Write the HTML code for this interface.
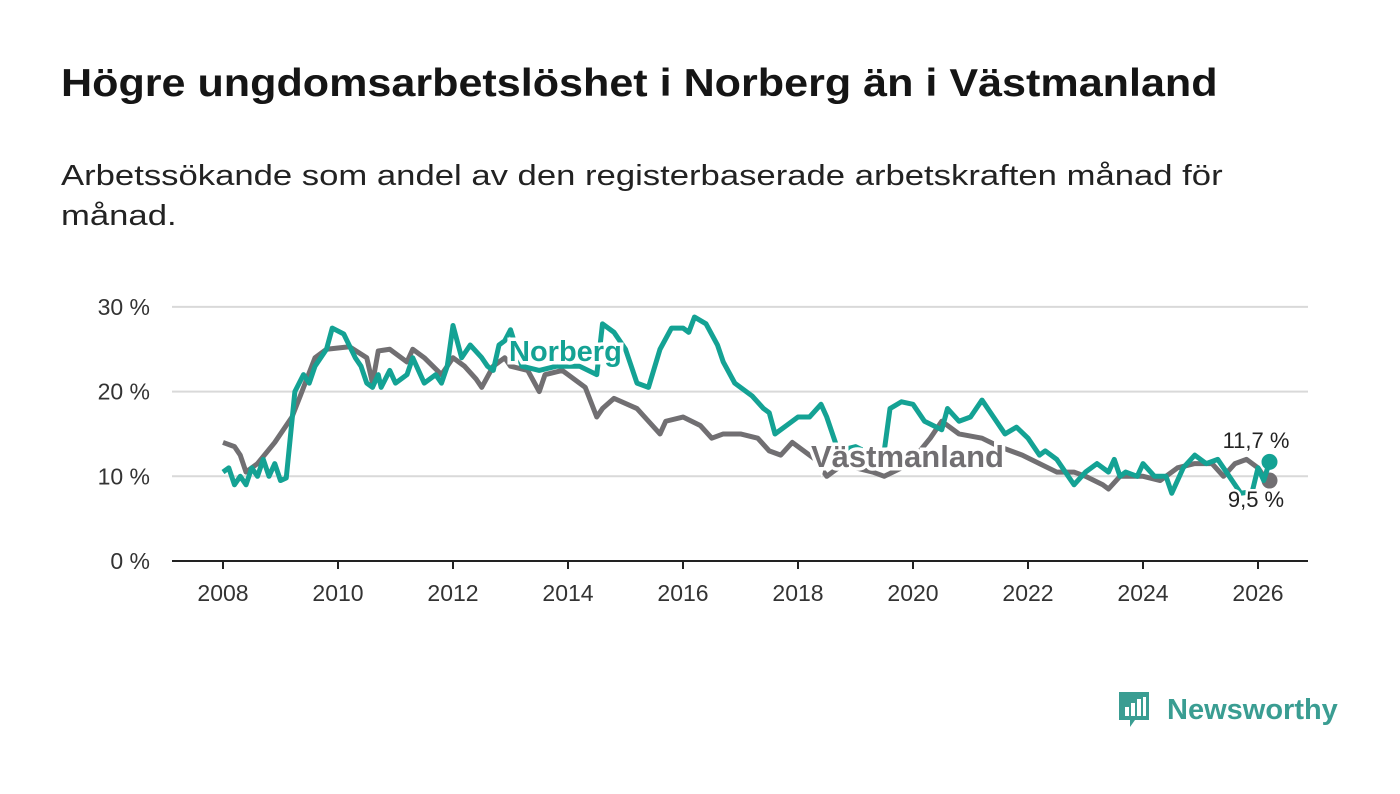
<!DOCTYPE html>
<html><head><meta charset="utf-8"><style>
body{margin:0;background:#fff;width:1400px;height:794px;overflow:hidden;font-family:"Liberation Sans","DejaVu Sans",sans-serif}
h1{position:absolute;left:61px;top:62px;margin:0;font-size:39px;font-weight:bold;color:#151515;white-space:nowrap;transform:scaleX(1.105);transform-origin:0 0}
.sub{position:absolute;left:61px;top:156px;margin:0;font-size:29px;line-height:40px;color:#222;white-space:nowrap;transform:scaleX(1.195);transform-origin:0 0}
svg{position:absolute;left:0;top:0}
</style></head><body>
<h1>Högre ungdomsarbetslöshet i Norberg än i Västmanland</h1>
<p class="sub">Arbetssökande som andel av den registerbaserade arbetskraften månad för<br>månad.</p>
<svg id="chart" width="1400" height="794"></svg>
<script>
const yTicks=[0,10,20,30];
const xTicks=[2008,2010,2012,2014,2016,2018,2020,2022,2024,2026];
const vastT=[2008,2008.2,2008.3,2008.4,2008.6,2008.9,2009.2,2009.35,2009.6,2009.8,2010.2,2010.5,2010.6,2010.7,2010.9,2011.2,2011.3,2011.5,2011.8,2012,2012.2,2012.4,2012.5,2012.7,2012.9,2013,2013.3,2013.5,2013.6,2013.9,2014,2014.3,2014.5,2014.6,2014.8,2015.2,2015.4,2015.6,2015.7,2016,2016.3,2016.5,2016.7,2017,2017.3,2017.5,2017.7,2017.9,2018.3,2018.5,2018.8,2019,2019.3,2019.5,2019.8,2020,2020.3,2020.5,2020.8,2021.2,2021.5,2021.9,2022.2,2022.5,2022.8,2023,2023.3,2023.4,2023.6,2024,2024.3,2024.6,2024.9,2025.2,2025.4,2025.6,2025.8,2026,2026.1,2026.2];
const vastV=[14,13.5,12.5,10.5,11.5,14,17,19.6,24,25,25.3,24,21,24.8,25,23.5,25,24,22,24,23,21.5,20.5,23,24,23,22.5,20,22,22.5,22,20.5,17,18,19.2,18,16.5,15,16.5,17,16,14.5,15,15,14.5,13,12.5,14,12,10,11.5,11,10.5,10,11,12,14.5,16.5,15,14.5,13.5,12.5,11.5,10.5,10.5,10,9,8.5,10,10,9.5,11,11.5,11.5,10,11.5,12,11,10,9.5];
const norT=[2008,2008.1,2008.2,2008.3,2008.4,2008.5,2008.6,2008.7,2008.8,2008.9,2009,2009.1,2009.25,2009.4,2009.5,2009.6,2009.8,2009.9,2010.1,2010.3,2010.4,2010.5,2010.6,2010.7,2010.75,2010.9,2011,2011.2,2011.3,2011.4,2011.5,2011.7,2011.8,2011.9,2012,2012.15,2012.3,2012.5,2012.6,2012.7,2012.8,2012.9,2013,2013.2,2013.5,2013.8,2014.2,2014.5,2014.6,2014.8,2015,2015.2,2015.4,2015.6,2015.8,2016,2016.1,2016.2,2016.4,2016.6,2016.7,2016.9,2017,2017.2,2017.4,2017.5,2017.6,2017.8,2018,2018.2,2018.4,2018.5,2018.7,2019,2019.3,2019.5,2019.6,2019.8,2020,2020.2,2020.5,2020.6,2020.8,2021,2021.2,2021.4,2021.6,2021.8,2022,2022.2,2022.3,2022.5,2022.7,2022.8,2023,2023.2,2023.4,2023.5,2023.6,2023.7,2023.9,2024,2024.2,2024.4,2024.5,2024.7,2024.9,2025.1,2025.3,2025.5,2025.7,2025.9,2026,2026.1,2026.2];
const norV=[10.5,11,9,10,9,11,10,12,10,11.5,9.5,9.8,20,22,21,23,25,27.5,26.8,24,23,21,20.5,22,20.5,22.5,21,22,24,22.5,21,22,21,23,27.8,24,25.5,24,23,22.5,25.5,26,27.3,23,22.5,23,23,22,28,27,25,21,20.5,25,27.5,27.5,27,28.8,28,25.5,23.5,21,20.5,19.5,18,17.5,15,16,17,17,18.5,17,13,13.5,12.5,13,18,18.8,18.5,16.5,15.5,18,16.5,17,19,17,15,15.8,14.5,12.5,13,12,10,9,10.5,11.5,10.5,12,10,10.5,10,11.5,10,10,8,11,12.5,11.5,12,10,8,8.2,11,9.5,11.7];
const NS="http://www.w3.org/2000/svg";
const svg=document.getElementById('chart');
const X=y=>223+(y-2008)*57.5;
const Y=v=>561-v*8.47;
function mk(tag,attrs,parent){const e=document.createElementNS(NS,tag);for(const k in attrs)e.setAttribute(k,attrs[k]);(parent||svg).appendChild(e);return e;}
yTicks.forEach(t=>{
  if(t>0){const g=mk('line',{x1:172,x2:1308,y1:Y(t),y2:Y(t),stroke:'#d9d9d9','stroke-width':2});
  
  }
  const l=mk('text',{x:150,y:Y(t)+8,'text-anchor':'end','font-size':23,fill:'#333'});l.textContent=t+' %';
  
  
});
const ax=mk('line',{x1:172,x2:1308,y1:561,y2:561,stroke:'#222','stroke-width':2});


xTicks.forEach(t=>{
  const tk=mk('line',{x1:X(t),x2:X(t),y1:561,y2:569,stroke:'#222','stroke-width':2});
  
  
  const l=mk('text',{x:X(t),y:601,'text-anchor':'middle','font-size':23,fill:'#333'});l.textContent=t;
  
  
});
function line(T,V,c,name){
  const p=mk('polyline',{points:T.map((t,i)=>X(t)+','+Y(V[i])).join(' '),fill:'none',stroke:c,'stroke-width':5,'stroke-linejoin':'round'});
  
  
  const d=mk('circle',{cx:X(T[T.length-1]),cy:Y(V[V.length-1]),r:8,fill:c});
  
  
}
line(vastT,vastV,'#716f72','vastmanland-line');
line(norT,norV,'#14a294','norberg-line');
function lbl(x,y,txt,c,name,size,bold,anchor){
  const t=mk('text',{x:x,y:y,'font-size':size,'font-weight':bold?'bold':'normal',fill:c,stroke:'#fff','stroke-width':bold?7:5,'paint-order':'stroke','text-anchor':anchor||'start'});
  t.textContent=txt;
  
  
}
lbl(509,361,'Norberg','#14a294','norberg-label',29,true);
lbl(811,467,'Västmanland','#716f72','vastmanland-label',31,true);
lbl(1256,448,'11,7 %','#222','norberg-end-value',22,false,'middle');
lbl(1256,507,'9,5 %','#222','vastmanland-end-value',22,false,'middle');
</script>
<svg width="230" height="60" style="left:1115px;top:685px">
<path d="M4 7 h30 v28 h-14 l-5 7 v-7 h-11 z" fill="#3a9d92"/>
<rect x="10" y="22" width="4" height="9" fill="#fff"/><rect x="16" y="18" width="4" height="13" fill="#fff"/><rect x="22" y="14" width="4" height="17" fill="#fff"/><rect x="28" y="12" width="3" height="19" fill="#fff"/>
<text x="52" y="34" font-size="29" font-weight="bold" fill="#3a9d92" font-family="Liberation Sans, sans-serif">Newsworthy</text>
</svg>
</body></html>
